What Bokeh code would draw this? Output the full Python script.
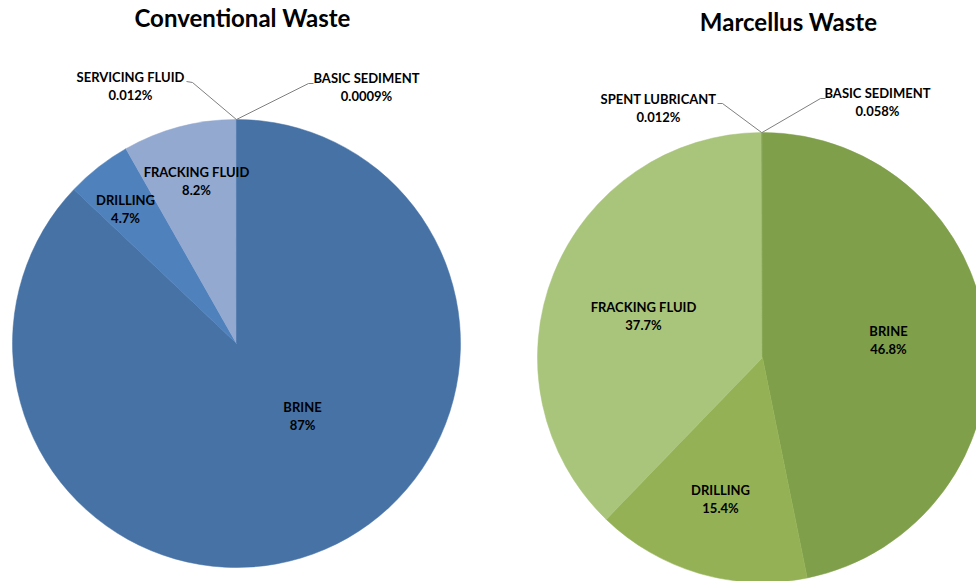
import numpy as np
from bokeh.plotting import figure
from bokeh.models import Range1d, ColumnDataSource
from bokeh.core.properties import value
from bokeh.embed import file_html
from bokeh.resources import INLINE

# ---------------- data ----------------
conv_title = "Conventional Waste"
conv_categories = ["BRINE", "DRILLING", "FRACKING FLUID", "SERVICING FLUID", "BASIC SEDIMENT"]
conv_values = [87, 4.7, 8.2, 0.012, 0.0009]

marc_title = "Marcellus Waste"
marc_categories = ["BRINE", "DRILLING", "FRACKING FLUID", "SPENT LUBRICANT", "BASIC SEDIMENT"]
marc_values = [46.8, 15.4, 37.7, 0.012, 0.058]

# ---------------- layout / style ----------------
W, H = 976, 581
FONT = "Lato"
conv_colors = ["#4672A6", "#4F81BD", "#93A9D0", "#93A9D0", "#4672A6"]
marc_colors = ["#7F9F4A", "#94B255", "#A9C47B", "#A9C47B", "#7F9F4A"]

conv_geom = dict(cx=236, cy=343, r=224, title_xy=(242, 17))
marc_geom = dict(cx=762, cy=357, r=225, title_xy=(788, 21))
# label (name line) centre positions in screen pixels
conv_label_xy = [(302, 406), (125, 199), (196, 171), (130, 76), (366, 77)]
marc_label_xy = [(888, 330), (720, 489), (643, 306), (658, 98), (877, 92)]
# leader lines: (elbow, end) or None
conv_leaders = [None, None, None, ((192, 82), (186, 81)), ((308, 83), (313, 83))]
marc_leaders = [None, None, None, ((722, 103), (717, 103)), ((820, 98), (825, 98))]

p = figure(width=W, height=H, x_range=Range1d(0, W), y_range=Range1d(0, H),
           output_backend="svg", toolbar_location=None, min_border=0,
           x_axis_location=None, y_axis_location=None)
p.grid.visible = False
p.outline_line_color = None
p.background_fill_color = "white"
p.border_fill_color = "white"


def draw_pie(title, cats, vals, colors, geom, label_xy, leaders):
    cx, cy, r = geom["cx"], H - geom["cy"], geom["r"]
    frac = np.array(vals, dtype=float) / float(sum(vals))
    cum = np.concatenate([[0.0], np.cumsum(frac)])
    start = np.pi / 2 - 2 * np.pi * cum[:-1]
    end = np.pi / 2 - 2 * np.pi * cum[1:]
    src = ColumnDataSource(dict(x=[cx] * len(vals), y=[cy] * len(vals), start=start, end=end,
                                color=colors))
    p.wedge(x="x", y="y", radius=r, start_angle="start", end_angle="end", direction="clock",
            fill_color="color", line_color="color", line_width=0.5, source=src)

    # leader lines for tiny slices
    mid = np.pi / 2 - 2 * np.pi * (cum[:-1] + cum[1:]) / 2
    for i, ld in enumerate(leaders):
        if ld is None:
            continue
        sx = cx + r * np.cos(mid[i])
        sy = cy + r * np.sin(mid[i])
        (ex1, ey1), (ex2, ey2) = ld
        p.line(x=[sx, ex1, ex2], y=[sy, H - ey1, H - ey2], line_color="#7F7F7F", line_width=1)

    names_x = [xy[0] for xy in label_xy]
    names_y = [H - xy[1] for xy in label_xy]
    pct_y = [y - 18 for y in names_y]
    pcts = [f"{v:g}%" for v in vals]
    p.text(x=names_x, y=names_y, text=list(cats), text_font=value(FONT), text_font_style="bold",
           text_font_size="13px", text_align="center", text_baseline="middle", text_color="black")
    p.text(x=names_x, y=pct_y, text=pcts, text_font=value(FONT), text_font_style="bold",
           text_font_size="13px", text_align="center", text_baseline="middle", text_color="black")
    tx, ty = geom["title_xy"]
    p.text(x=[tx], y=[H - ty], text=[title], text_font=value(FONT), text_font_style="bold",
           text_font_size="24px", text_align="center", text_baseline="middle", text_color="black")


draw_pie(conv_title, conv_categories, conv_values, conv_colors, conv_geom, conv_label_xy, conv_leaders)
draw_pie(marc_title, marc_categories, marc_values, marc_colors, marc_geom, marc_label_xy, marc_leaders)

open("out.html", "w").write(file_html(p, INLINE))
